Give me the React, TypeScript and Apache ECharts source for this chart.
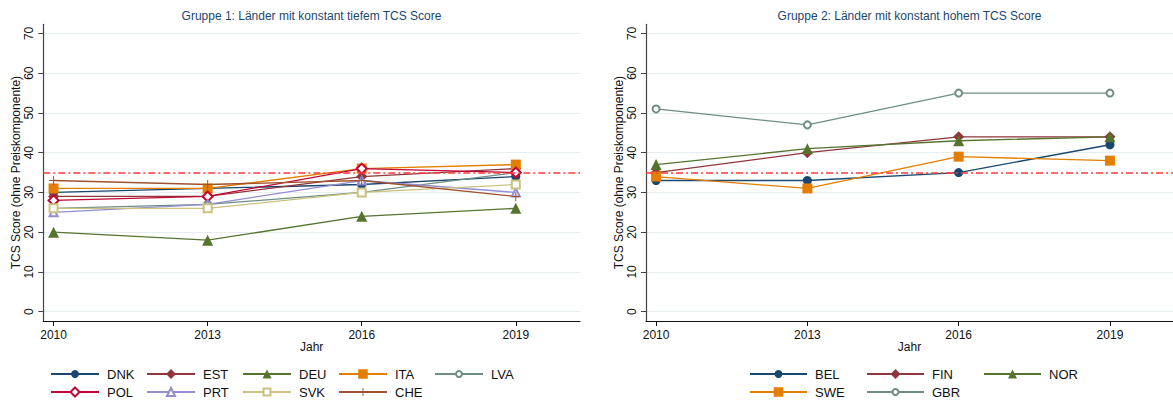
import React, { useEffect, useRef } from "react";
import * as echarts from "echarts";

const years = [2010, 2013, 2016, 2019];
const yTicks = [0, 10, 20, 30, 40, 50, 60, 70];
const threshold = 35;

const group1Names = ["DNK", "EST", "DEU", "ITA", "LVA", "POL", "PRT", "SVK", "CHE"];
const DNK = [30, 31, 32, 34];
const EST = [29, 29, 34, 36];
const DEU = [20, 18, 24, 26];
const ITA = [31, 31, 36, 37];
const LVA = [26, 27, 30, 35];
const POL = [28, 29, 36, 35];
const PRT = [25, 27, 33, 30];
const SVK = [26, 26, 30, 32];
const CHE = [33, 32, 33, 29];

const group2Names = ["BEL", "FIN", "NOR", "SWE", "GBR"];
const BEL = [33, 33, 35, 42];
const FIN = [35, 40, 44, 44];
const NOR = [37, 41, 43, 44];
const SWE = [34, 31, 39, 38];
const GBR = [51, 47, 55, 55];

const title1 = "Gruppe 1: Länder mit konstant tiefem TCS Score";
const title2 = "Gruppe 2: Länder mit konstant hohem TCS Score";
const yName = "TCS Score (ohne Preiskomponente)";
const xName = "Jahr";

const FONT = "'Liberation Sans', Arial, Helvetica, sans-serif";
const PLUS = "path://M4.45,0h1.1v4.45h4.45v1.1h-4.45v4.45h-1.1v-4.45h-4.45v-1.1h4.45z";

type Style = { color: string; symbol: string; size: number; legendSize: number };
const styles: Record<string, Style> = {
  DNK: { color: "#1a476f", symbol: "circle", size: 9, legendSize: 8 },
  EST: { color: "#90353b", symbol: "diamond", size: 11, legendSize: 10 },
  DEU: { color: "#55752f", symbol: "triangle", size: 11, legendSize: 9 },
  ITA: { color: "#e37e00", symbol: "rect", size: 10, legendSize: 9.5 },
  LVA: { color: "#6e8e84", symbol: "emptyCircle", size: 7, legendSize: 6 },
  POL: { color: "#c10534", symbol: "emptyDiamond", size: 10, legendSize: 9 },
  PRT: { color: "#938dd2", symbol: "emptyTriangle", size: 8, legendSize: 8 },
  SVK: { color: "#cac27e", symbol: "emptyRect", size: 8, legendSize: 7 },
  CHE: { color: "#a0522d", symbol: PLUS, size: 9, legendSize: 8 },
  BEL: { color: "#1a476f", symbol: "circle", size: 9, legendSize: 8 },
  FIN: { color: "#90353b", symbol: "diamond", size: 11, legendSize: 10 },
  NOR: { color: "#55752f", symbol: "triangle", size: 11, legendSize: 9 },
  SWE: { color: "#e37e00", symbol: "rect", size: 10, legendSize: 9.5 },
  GBR: { color: "#6e8e84", symbol: "emptyCircle", size: 7, legendSize: 6 },
};

const values: Record<string, number[]> = { DNK, EST, DEU, ITA, LVA, POL, PRT, SVK, CHE, BEL, FIN, NOR, SWE, GBR };

function makeSeries(name: string, axis: number, withRef: boolean) {
  const s = styles[name];
  const serie: any = {
    name,
    type: "line",
    xAxisIndex: axis,
    yAxisIndex: axis,
    data: years.map((y, i) => [y, values[name][i]]),
    color: s.color,
    symbol: s.symbol,
    symbolSize: s.size,
    showAllSymbol: true,
    lineStyle: { color: s.color, width: 1.3 },
    itemStyle: { color: s.color, borderColor: s.color, borderWidth: s.symbol.startsWith("empty") ? 1 : 0 },
    emphasis: { disabled: true },
  };
  if (withRef) {
    serie.markLine = {
      silent: true,
      symbol: "none",
      label: { show: false },
      lineStyle: { color: "#ff3b3b", type: [7, 3, 2, 3], width: 1.6 },
      data: [{ yAxis: threshold }],
    };
  }
  return serie;
}

function xAxis(gridIndex: number) {
  return {
    type: "value",
    gridIndex,
    min: 2009.8,
    max: 2020.25,
    name: xName,
    nameLocation: "middle",
    nameGap: 20,
    nameMoveOverlap: false,
    nameTextStyle: { color: "#111", fontSize: 12, fontFamily: FONT },
    axisLine: { show: true, onZero: false, lineStyle: { color: "#111", width: 1.2 } },
    axisTick: { show: true, length: 5, customValues: years, lineStyle: { color: "#111" } },
    axisLabel: {
      customValues: years,
      formatter: (v: number) => String(v),
      color: "#111",
      fontSize: 12,
      fontFamily: FONT,
      margin: 8,
    },
    splitLine: { show: false },
  };
}

function yAxis(gridIndex: number) {
  return {
    type: "value",
    gridIndex,
    min: -2.34,
    max: 72.3,
    name: yName,
    nameLocation: "middle",
    nameGap: 21,
    nameTextStyle: { color: "#111", fontSize: 12, fontFamily: FONT },
    axisLine: { show: true, onZero: false, lineStyle: { color: "#444", width: 1.2 } },
    axisTick: { show: true, length: 5, customValues: yTicks, lineStyle: { color: "#444" } },
    axisLabel: { customValues: yTicks, rotate: 90, color: "#111", fontSize: 12, fontFamily: FONT, margin: 8 },
    splitLine: { show: true, lineStyle: { color: "#e6eef0", width: 1 } },
  };
}

function legendItem(name: string, left: number, centerY: number, itemWidth: number) {
  const ih = styles[name].legendSize / 0.8;
  return {
    data: [name],
    left,
    top: centerY - 7.5,
    padding: 0,
    orient: "horizontal",
    itemWidth,
    itemHeight: ih,
    selectedMode: false,
    textStyle: { color: "#111", fontSize: 13, fontFamily: FONT, padding: [0, 0, 0, 3] },
  };
}

function legends() {
  const out: any[] = [];
  group1Names.forEach((n, i) => {
    const col = i < 5 ? i : i - 5;
    const row = i < 5 ? 0 : 1;
    out.push(legendItem(n, 50 + 96 * col, 375 + 18 * row, 48));
  });
  group2Names.forEach((n, i) => {
    const col = i < 3 ? i : i - 3;
    const row = i < 3 ? 0 : 1;
    out.push(legendItem(n, 749 + 117 * col, 375 + 18 * row, 57));
  });
  return out;
}

export default function App() {
  const ref = useRef<HTMLDivElement>(null);
  useEffect(() => {
    document.body.style.margin = "0";
    if (!ref.current) return;
    const chart = echarts.init(ref.current, null, { renderer: "svg" });
    chart.setOption({
      animation: false,
      backgroundColor: "#ffffff",
      grid: [
        { left: 43.3, top: 24.3, width: 536.7, height: 296.7 },
        { left: 646, top: 24.3, width: 527, height: 296.7 },
      ],
      xAxis: [xAxis(0), xAxis(1)],
      yAxis: [yAxis(0), yAxis(1)],
      legend: legends(),
      graphic: [
        {
          type: "text",
          x: 311.5,
          y: 16,
          style: { text: title1, align: "center", verticalAlign: "middle", fontSize: 12, fontFamily: FONT, fill: "#1a476f" },
        },
        {
          type: "text",
          x: 909.5,
          y: 16,
          style: { text: title2, align: "center", verticalAlign: "middle", fontSize: 12, fontFamily: FONT, fill: "#1a476f" },
        },
      ],
      series: [
        ...group1Names.map((n, i) => makeSeries(n, 0, i === 0)),
        ...group2Names.map((n, i) => makeSeries(n, 1, i === 0)),
      ],
    });
    return () => chart.dispose();
  }, []);
  return <div ref={ref} style={{ width: 1173, height: 405 }} />;
}
